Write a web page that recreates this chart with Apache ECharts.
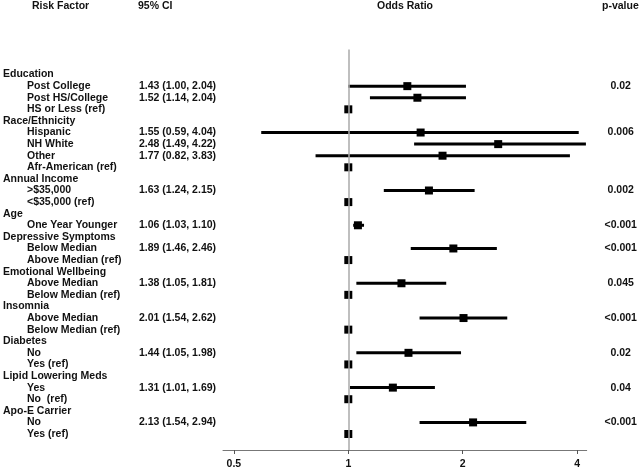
<!DOCTYPE html>
<html>
<head>
<meta charset="utf-8">
<script src="https://cdn.jsdelivr.net/npm/echarts@6/dist/echarts.min.js"></script>
<style>
  html, body { margin: 0; padding: 0; background: #fff; }
  #chart { width: 640px; height: 470px; }
</style>
</head>
<body>
<div id="chart"></div>
<script>
// ---- Data ----
const rowLabels = [
  'Education', 'Post College', 'Post HS/College', 'HS or Less (ref)',
  'Race/Ethnicity', 'Hispanic', 'NH White', 'Other', 'Afr-American (ref)',
  'Annual Income', '>$35,000', '<$35,000 (ref)',
  'Age', 'One Year Younger',
  'Depressive Symptoms', 'Below Median', 'Above Median (ref)',
  'Emotional Wellbeing', 'Above Median', 'Below Median (ref)',
  'Insomnia', 'Above Median', 'Below Median (ref)',
  'Diabetes', 'No', 'Yes (ref)',
  'Lipid Lowering Meds', 'Yes', 'No  (ref)',
  'Apo-E Carrier', 'No', 'Yes (ref)'
];
const isGroupHeader = [
  1,0,0,0, 1,0,0,0,0, 1,0,0, 1,0, 1,0,0, 1,0,0, 1,0,0, 1,0,0, 1,0,0, 1,0,0
];
const oddsRatio = [
  null, 1.43, 1.52, 1,
  null, 1.55, 2.48, 1.77, 1,
  null, 1.63, 1,
  null, 1.06,
  null, 1.89, 1,
  null, 1.38, 1,
  null, 2.01, 1,
  null, 1.44, 1,
  null, 1.31, 1,
  null, 2.13, 1
];
const ciLower = [
  null, 1.00, 1.14, null,
  null, 0.59, 1.49, 0.82, null,
  null, 1.24, null,
  null, 1.03,
  null, 1.46, null,
  null, 1.05, null,
  null, 1.54, null,
  null, 1.05, null,
  null, 1.01, null,
  null, 1.54, null
];
const ciUpper = [
  null, 2.04, 2.04, null,
  null, 4.04, 4.22, 3.83, null,
  null, 2.15, null,
  null, 1.10,
  null, 2.46, null,
  null, 1.81, null,
  null, 2.62, null,
  null, 1.98, null,
  null, 1.69, null,
  null, 2.94, null
];
const pValues = [
  '', '0.02', '', '',
  '', '0.006', '', '', '',
  '', '0.002', '',
  '', '<0.001',
  '', '<0.001', '',
  '', '0.045', '',
  '', '<0.001', '',
  '', '0.02', '',
  '', '0.04', '',
  '', '<0.001', ''
];
const xTicks = [0.5, 1, 2, 4];
const referenceOR = 1;
const headers = ['Risk Factor', '95% CI', 'Odds Ratio', 'p-value'];

// ---- Derived ----
const rowIdx = rowLabels.map((_, i) => i);
const ciText = rowIdx.map(i => (ciLower[i] == null ? '' :
  oddsRatio[i].toFixed(2) + ' (' + ciLower[i].toFixed(2) + ', ' + ciUpper[i].toFixed(2) + ')'));
const pointData = rowIdx.filter(i => oddsRatio[i] != null).map(i => [oddsRatio[i], i]);
const ciData = rowIdx.filter(i => ciLower[i] != null).map(i => [ciLower[i], ciUpper[i], i]);

const FONT = "'Liberation Sans', Arial, Helvetica, sans-serif";
const FS = 10.5;
const TXT = '#111';

const yBase = {
  type: 'value', inverse: true, min: -2.16, max: 32.38,
  axisLine: { show: false }, axisTick: { show: false }, splitLine: { show: false }
};

const chart = echarts.init(document.getElementById('chart'), null, { renderer: 'canvas' });
chart.setOption({
  animation: false,
  backgroundColor: '#fff',
  grid: { left: 222, right: 53.3, top: 49.5, bottom: 20 },
  xAxis: {
    type: 'log', logBase: 2, min: 0.468, max: 4.24, position: 'bottom',
    axisLine: { show: true, onZero: false, lineStyle: { color: '#777', width: 1 } },
    axisTick: { show: true, length: 4, inside: false, customValues: xTicks, lineStyle: { color: '#555' } },
    axisLabel: { customValues: xTicks, margin: 9, color: TXT, fontFamily: FONT, fontWeight: 'bold', fontSize: FS,
      formatter: v => String(v) },
    splitLine: { show: false }, minorTick: { show: false }
  },
  yAxis: [
    Object.assign({}, yBase, {
      position: 'left',
      axisLabel: {
        customValues: rowIdx, align: 'left', margin: 220, color: TXT,
        fontFamily: FONT, fontWeight: 'bold', fontSize: FS,
        formatter: v => (isGroupHeader[v] ? '{h|' : '{i|') + rowLabels[v] + '}',
        rich: {
          h: { fontFamily: FONT, fontWeight: 'bold', fontSize: FS, color: TXT },
          i: { fontFamily: FONT, fontWeight: 'bold', fontSize: FS, color: TXT, padding: [0, 0, 0, 24] }
        }
      }
    }),
    Object.assign({}, yBase, {
      position: 'left',
      axisLabel: {
        customValues: rowIdx, align: 'left', margin: 84, color: TXT,
        fontFamily: FONT, fontWeight: 'bold', fontSize: FS,
        formatter: v => ciText[v] || ''
      }
    }),
    Object.assign({}, yBase, {
      position: 'right',
      axisLabel: {
        customValues: rowIdx, align: 'center', margin: 34, color: TXT,
        fontFamily: FONT, fontWeight: 'bold', fontSize: FS,
        formatter: v => pValues[v] || ''
      }
    })
  ],
  graphic: [
    { type: 'text', left: 32, top: 1, style: { text: headers[0], font: 'bold 10.5px ' + FONT, fill: TXT } },
    { type: 'text', left: 138, top: 1, style: { text: headers[1], font: 'bold 10.5px ' + FONT, fill: TXT } },
    { type: 'text', left: 377, top: 1, style: { text: headers[2], font: 'bold 10.5px ' + FONT, fill: TXT } },
    { type: 'text', left: 602, top: 1, style: { text: headers[3], font: 'bold 10.5px ' + FONT, fill: TXT } }
  ],
  series: [
    {
      type: 'custom', z: 2, yAxisIndex: 0,
      encode: { x: [0, 1], y: 2 },
      data: ciData,
      renderItem: (params, api) => {
        const a = api.coord([api.value(0), api.value(2)]);
        const b = api.coord([api.value(1), api.value(2)]);
        return { type: 'line', shape: { x1: a[0], y1: a[1], x2: b[0], y2: b[1] },
          style: { stroke: '#000', lineWidth: 3 } };
      }
    },
    {
      type: 'scatter', z: 3, yAxisIndex: 0,
      symbol: 'rect', symbolSize: [8, 8],
      itemStyle: { color: '#000', opacity: 1 },
      data: pointData
    },
    {
      type: 'scatter', z: 5, yAxisIndex: 0, data: [],
      markLine: {
        silent: true, symbol: ['none', 'none'], label: { show: false },
        lineStyle: { color: '#aaa', width: 1.5, type: 'solid' },
        data: [{ xAxis: referenceOR }]
      }
    }
  ]
});
</script>
</body>
</html>
